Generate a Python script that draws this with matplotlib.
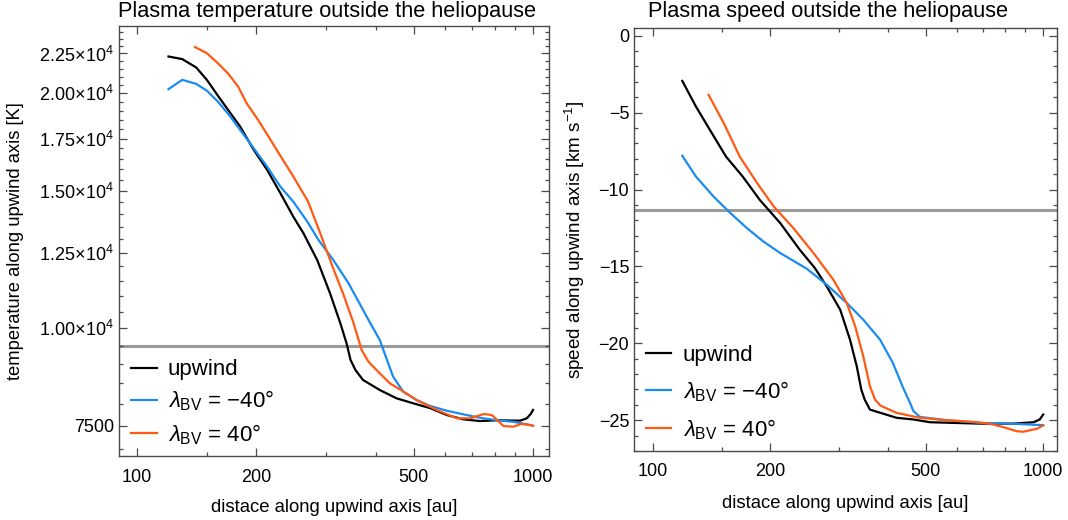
import numpy as np
import matplotlib
matplotlib.use("Agg")
import matplotlib.pyplot as plt
from matplotlib.ticker import FixedLocator, FixedFormatter, NullFormatter, MultipleLocator

plt.rcParams["font.family"] = ["Liberation Sans", "DejaVu Sans"]
plt.rcParams["mathtext.fontset"] = "custom"
plt.rcParams["mathtext.rm"] = "Liberation Sans"
plt.rcParams["mathtext.it"] = "Liberation Sans:italic"
plt.rcParams["mathtext.bf"] = "Liberation Sans:bold"

# --- temperature (left panel) ---
temp_up_x = [120, 130, 141, 150, 160, 172, 182, 197, 213, 230, 248, 263, 285, 307,
             326, 338, 346, 356, 372, 410, 452, 499, 550, 606, 667, 734, 810, 927, 964, 985, 1000]
temp_up_y = [22300, 22130, 21590, 20815, 19860, 18870, 18140, 16930, 15960, 14900, 13900,
             13240, 12230, 11090, 10150, 9567, 9107, 8840, 8585, 8335, 8133, 8012, 7900,
             7740, 7644, 7605, 7622, 7614, 7666, 7760, 7858]

temp_m40_x = [120, 130, 141, 150, 160, 172, 182, 197, 213, 230, 248, 269, 287, 313,
              342, 380, 410, 443, 470, 508, 550, 606, 667, 734, 810, 890, 983, 1000]
temp_m40_y = [20250, 20815, 20570, 20160, 19520, 18670, 17960, 17010, 16110, 15190, 14530,
              13700, 12980, 12230, 11420, 10350, 9660, 8670, 8293, 8091, 7950, 7840, 7757,
              7680, 7622, 7590, 7516, 7500]

temp_p40_x = [140, 150, 160, 170, 180, 189, 202, 216, 232, 248, 270, 290, 313, 331,
              351, 369, 384, 406, 435, 470, 508, 571, 642, 694, 751, 787, 842, 890, 935, 983, 1000]
temp_p40_y = [22930, 22520, 21860, 21190, 20400, 19430, 18500, 17520, 16520, 15650, 14550,
              13240, 11920, 11090, 10200, 9380, 9060, 8800, 8500, 8300, 8091, 7858, 7667,
              7667, 7765, 7740, 7493, 7480, 7540, 7516, 7500]

# --- speed (right panel) ---
spd_up_x = [119, 129, 140, 154, 170, 188, 212, 238, 260, 279, 302, 320, 333, 342, 349,
            360, 383, 421, 465, 513, 688, 838, 945, 980, 1000]
spd_up_y = [-2.94, -4.61, -6.12, -7.86, -9.16, -10.68, -12.18, -13.92, -15.1, -16.3,
            -17.81, -19.76, -21.49, -23.0, -23.66, -24.31, -24.52, -24.84, -24.95, -25.13,
            -25.22, -25.22, -25.13, -24.95, -24.63]

spd_m40_x = [119, 129, 143, 158, 174, 192, 212, 248, 279, 314, 346, 382, 412, 436,
             447, 456, 465, 483, 566, 688, 838, 1000]
spd_m40_y = [-7.81, -9.16, -10.45, -11.53, -12.5, -13.38, -14.13, -15.15, -16.19, -17.38,
             -18.46, -19.76, -21.27, -22.79, -23.4, -23.87, -24.4, -24.78, -25.0, -25.17,
             -25.23, -25.32]

spd_p40_x = [139, 152, 167, 185, 204, 229, 258, 290, 314, 330, 346, 360, 371, 383,
             421, 483, 566, 662, 731, 791, 855, 888, 962, 1000]
spd_p40_y = [-3.85, -5.69, -7.86, -9.58, -11.1, -12.5, -14.13, -15.86, -17.38, -18.9,
             -20.84, -22.79, -23.66, -24.05, -24.52, -24.84, -25.0, -25.1, -25.23, -25.45,
             -25.71, -25.75, -25.56, -25.34]

temp_ref = 9490
spd_ref = -11.35

x_major = [100, 200, 500, 1000]
x_minor = [150, 300, 400, 600, 700, 800, 900]
t_major = [7500, 10000, 12500, 15000, 17500, 20000, 22500]
t_labels = ["7500", r"$1.00\!\times\!10^{4}$", r"$1.25\!\times\!10^{4}$", r"$1.50\!\times\!10^{4}$",
            r"$1.75\!\times\!10^{4}$", r"$2.00\!\times\!10^{4}$", r"$2.25\!\times\!10^{4}$"]

black = "#000000"
blue = "#1a8cf0"
orange = "#ff5a12"
gray = "#9a9a9a"
frame = "#4a4a4a"

fig = plt.figure(figsize=(10.68, 5.2), dpi=100)
axL = fig.add_axes([119 / 1068, 1 - 456 / 520, 430 / 1068, 430 / 520])
axR = fig.add_axes([634 / 1068, 1 - 451 / 520, 423 / 1068, 423 / 520])

lw = 1.6
labels = ["upwind", r"$\lambda_{\rm BV}$ = −40°", r"$\lambda_{\rm BV}$ = 40°"]

axL.axhline(temp_ref, color=gray, lw=2.2, zorder=1)
axL.plot(temp_up_x, temp_up_y, color=black, lw=lw, label=labels[0])
axL.plot(temp_m40_x, temp_m40_y, color=blue, lw=lw, label=labels[1])
axL.plot(temp_p40_x, temp_p40_y, color=orange, lw=lw, label=labels[2])

axR.axhline(spd_ref, color=gray, lw=2.2, zorder=1)
axR.plot(spd_up_x, spd_up_y, color=black, lw=lw, label=labels[0])
axR.plot(spd_m40_x, spd_m40_y, color=blue, lw=lw, label=labels[1])
axR.plot(spd_p40_x, spd_p40_y, color=orange, lw=lw, label=labels[2])

for ax, spacing, y0 in ((axL, 0.38, 0.022), (axR, 0.6, 0.022)):
    ax.set_xscale("log")
    ax.xaxis.set_major_locator(FixedLocator(x_major))
    ax.xaxis.set_major_formatter(FixedFormatter([str(v) for v in x_major]))
    ax.xaxis.set_minor_locator(FixedLocator(x_minor))
    ax.xaxis.set_minor_formatter(NullFormatter())
    ax.tick_params(which="both", direction="in", top=True, right=True, colors=frame,
                   labelcolor="black", labelsize=13, width=0.9)
    ax.tick_params(which="major", length=5.5)
    ax.tick_params(which="minor", length=3)
    ax.tick_params(axis="x", pad=9)
    for s in ax.spines.values():
        s.set_color(frame)
        s.set_linewidth(1.0)
    ax.set_xlabel("distace along upwind axis [au]", fontsize=13.3)
    ax.legend(loc="lower left", frameon=False, fontsize=16, handlelength=1.15,
              handletextpad=0.5, labelspacing=spacing, borderpad=0, borderaxespad=0,
              bbox_to_anchor=(0.028, y0))

axL.set_xlim(90, 1097)
axL.set_yscale("log")
axL.set_ylim(6860, 24400)
axL.yaxis.set_major_locator(FixedLocator(t_major))
axL.yaxis.set_major_formatter(FixedFormatter(t_labels))
axL.yaxis.set_minor_locator(FixedLocator(np.arange(7000, 24500, 500)))
axL.yaxis.set_minor_formatter(NullFormatter())
axL.set_ylabel("temperature along upwind axis [K]", fontsize=13.2)
axL.yaxis.set_label_coords(-0.222, 0.5)
axL.xaxis.set_label_coords(0.5, -0.1)

axR.set_xlim(89.5, 1085)
axR.set_ylim(-27.0, 0.5)
axR.yaxis.set_major_locator(MultipleLocator(5))
axR.yaxis.set_minor_locator(MultipleLocator(1))
axR.set_yticks([0, -5, -10, -15, -20, -25])
axR.set_yticklabels(["0", "−5", "−10", "−15", "−20", "−25"])
axR.set_ylabel(r"speed along upwind axis [km s$^{-1}$]", fontsize=13.6)
axR.yaxis.set_label_coords(-0.11, 0.5)
axR.xaxis.set_label_coords(0.5, -0.104)

fig.text(327 / 1068, 1 - 11 / 520, "Plasma temperature outside the heliopause",
         ha="center", va="center", fontsize=15.7)
fig.text(828 / 1068, 1 - 11 / 520, "Plasma speed outside the heliopause",
         ha="center", va="center", fontsize=15.7)

fig.savefig("out.png", dpi=100)
